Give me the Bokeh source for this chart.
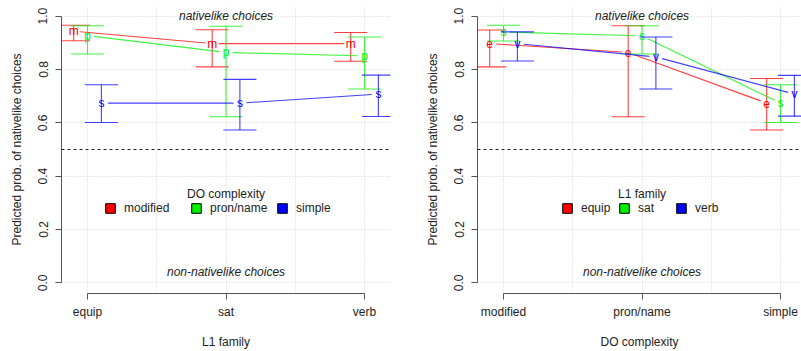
import math
from bokeh.plotting import figure
from bokeh.layouts import row
from bokeh.models import (FixedTicker, Range1d, Span, Label, Legend, LegendItem,
                          PrintfTickFormatter, ColumnDataSource)
from bokeh.embed import file_html
from bokeh.resources import INLINE
from bokeh.core.properties import value

FONT = "Liberation Sans"

# ---------------- data ----------------
l1_families = ["equip", "sat", "verb"]
do_levels = ["modified", "pron/name", "simple"]
y_ticks = [0.0, 0.2, 0.4, 0.6, 0.8, 1.0]
chance_level = 0.5

# left panel: x = L1 family, series = DO complexity
modified_fit = [0.944, 0.897, 0.897]
modified_lo = [0.908, 0.810, 0.831]
modified_hi = [0.966, 0.949, 0.939]
pronname_fit = [0.927, 0.864, 0.851]
pronname_lo = [0.858, 0.623, 0.727]
pronname_hi = [0.964, 0.962, 0.922]
simple_fit = [0.674, 0.674, 0.708]
simple_lo = [0.601, 0.573, 0.624]
simple_hi = [0.743, 0.763, 0.779]

# right panel: x = DO complexity, series = L1 family
equip_fit = [0.897, 0.864, 0.674]
equip_lo = [0.810, 0.623, 0.573]
equip_hi = [0.948, 0.964, 0.766]
sat_fit = [0.941, 0.926, 0.674]
sat_lo = [0.907, 0.858, 0.601]
sat_hi = [0.966, 0.964, 0.743]
verb_fit = [0.897, 0.847, 0.708]
verb_lo = [0.832, 0.727, 0.625]
verb_hi = [0.941, 0.922, 0.778]

series_colors = ["#FF0000", "#00F000", "#0000FF"]
left_letters = ["m", "p", "s"]
right_letters = ["e", "s", "v"]

# ---------------- layout constants ----------------
X_START = 0.812
Y_START, Y_END = -0.04, 1.04
FRAME_H = 288
PX_PER_X = 138.5
DODGE = 0.1
CAP_PX = 16.5
GAP_PX = 6.5


def panel(cats, series_names, letters, fits, los, his, xlabel, legend_title,
          frame_w, border_left, border_right, legend_x, label_w, spacing):
    x_end = X_START + frame_w / PX_PER_X
    p = figure(frame_width=frame_w, frame_height=FRAME_H,
               min_border_left=border_left, min_border_right=border_right,
               min_border_top=5, min_border_bottom=58,
               x_range=Range1d(X_START, x_end), y_range=Range1d(Y_START, Y_END),
               output_backend="svg", toolbar_location=None)
    p.outline_line_color = None
    p.background_fill_color = "white"
    p.border_fill_color = "white"

    kx = frame_w / (x_end - X_START)
    ky = FRAME_H / (Y_END - Y_START)
    cap = CAP_PX / kx
    n = len(cats)
    positions = [i + 1 for i in range(n)]

    # grid
    p.xgrid.ticker = FixedTicker(ticks=[1 + 0.5 * k for k in range(2 * n - 1)])
    p.ygrid.ticker = FixedTicker(ticks=y_ticks)
    for g in (p.xgrid, p.ygrid):
        g.grid_line_color = "#D3D3D3"
        g.grid_line_dash = "1 2"
        g.grid_line_width = 1

    # reference line
    p.add_layout(Span(location=chance_level, dimension="width",
                      line_color="#222222", line_dash="3 3", line_width=1))

    # annotations
    mid = positions[len(positions) // 2]
    p.add_layout(Label(x=mid, y=1.0, text="nativelike choices", text_align="center",
                       text_baseline="middle", text_font=FONT, text_font_size="12px",
                       text_font_style="italic", text_color="#222222"))
    p.add_layout(Label(x=mid, y=0.04, text="non-nativelike choices", text_align="center",
                       text_baseline="middle", text_font=FONT, text_font_size="12px",
                       text_font_style="italic", text_color="#222222"))
    p.add_layout(Label(x=mid, y=0.335, text=legend_title, text_align="center",
                       text_baseline="middle", text_font=FONT, text_font_size="12px",
                       text_color="#222222"))

    items = []
    for si, (name, letter, fit, lo, hi) in enumerate(zip(series_names, letters, fits, los, his)):
        col = series_colors[si]
        off = (si - 1) * DODGE
        xs = [x + off for x in positions]
        # connecting lines with gaps around the points (R type="b")
        x0s, y0s, x1s, y1s = [], [], [], []
        for j in range(n - 1):
            dx, dy = xs[j + 1] - xs[j], fit[j + 1] - fit[j]
            L = math.hypot(dx * kx, dy * ky)
            t = GAP_PX / L
            x0s.append(xs[j] + dx * t); y0s.append(fit[j] + dy * t)
            x1s.append(xs[j + 1] - dx * t); y1s.append(fit[j + 1] - dy * t)
        p.segment(x0=x0s, y0=y0s, x1=x1s, y1=y1s, line_color=col, line_width=1.1, line_alpha=0.75)
        # error bars
        p.segment(x0=xs, y0=lo, x1=xs, y1=hi, line_color=col, line_width=1.1, line_alpha=0.75)
        p.segment(x0=[x - cap for x in xs], y0=hi, x1=[x + cap for x in xs], y1=hi,
                  line_color=col, line_width=1.1, line_alpha=0.75)
        p.segment(x0=[x - cap for x in xs], y0=lo, x1=[x + cap for x in xs], y1=lo,
                  line_color=col, line_width=1.1, line_alpha=0.75)
        # letter markers
        src = ColumnDataSource(dict(x=xs, y=fit, t=[letter] * n))
        p.text(x="x", y="y", text="t", source=src, text_font=value(FONT),
               text_font_size="12px", text_align="center", text_baseline="middle",
               text_color=col)
        # legend proxy (not drawn: NaN position)
        r = p.rect(x=[float("nan")], y=[float("nan")], width=1, height=1,
                   fill_color=col, line_color="black", line_width=1)
        items.append(LegendItem(label=name, renderers=[r]))

    legend = Legend(items=items, orientation="horizontal", location=(legend_x, 78),
                    glyph_width=12, glyph_height=12, label_height=12, label_width=label_w,
                    label_standoff=8, spacing=spacing, padding=0, margin=0,
                    border_line_color=None, background_fill_alpha=0,
                    label_text_font=FONT, label_text_font_size="12px",
                    label_text_color="#222222", label_text_baseline="middle")
    p.add_layout(legend)

    # axes
    p.xaxis.ticker = FixedTicker(ticks=positions)
    p.xaxis.major_label_overrides = {pos: c for pos, c in zip(positions, cats)}
    p.xaxis.bounds = (positions[0], positions[-1])
    p.xaxis.axis_label = xlabel
    p.xaxis.major_label_standoff = 5
    p.xaxis.axis_label_standoff = 13

    p.yaxis.ticker = FixedTicker(ticks=y_ticks)
    p.yaxis.formatter = PrintfTickFormatter(format="%.1f")
    p.yaxis.bounds = (y_ticks[0], y_ticks[-1])
    p.yaxis.axis_label = "Predicted prob. of nativelike choices"
    p.yaxis.major_label_orientation = "vertical"
    p.yaxis.major_label_standoff = 8
    p.yaxis.axis_label_standoff = 12

    for ax in (p.xaxis[0], p.yaxis[0]):
        ax.axis_line_color = "#555555"
        ax.major_tick_line_color = "#555555"
        ax.minor_tick_line_color = None
        ax.major_tick_out = 6
        ax.major_tick_in = 0
        ax.major_label_text_font = FONT
        ax.major_label_text_font_size = "12px"
        ax.major_label_text_color = "#222222"
        ax.axis_label_text_font = FONT
        ax.axis_label_text_font_size = "12px"
        ax.axis_label_text_font_style = "normal"
        ax.axis_label_text_color = "#222222"
    return p


p1 = panel(l1_families, do_levels, left_letters,
           [modified_fit, pronname_fit, simple_fit],
           [modified_lo, pronname_lo, simple_lo],
           [modified_hi, pronname_hi, simple_hi],
           "L1 family", "DO complexity",
           frame_w=329, border_left=61, border_right=10,
           legend_x=43, label_w=60, spacing=6)

p2 = panel(do_levels, l1_families, right_letters,
           [equip_fit, sat_fit, verb_fit],
           [equip_lo, sat_lo, verb_lo],
           [equip_hi, sat_hi, verb_hi],
           "DO complexity", "L1 family",
           frame_w=324, border_left=77, border_right=0,
           legend_x=84, label_w=31, spacing=6)

layout = row(p1, p2, spacing=0)
open("out.html", "w").write(file_html(layout, INLINE))
